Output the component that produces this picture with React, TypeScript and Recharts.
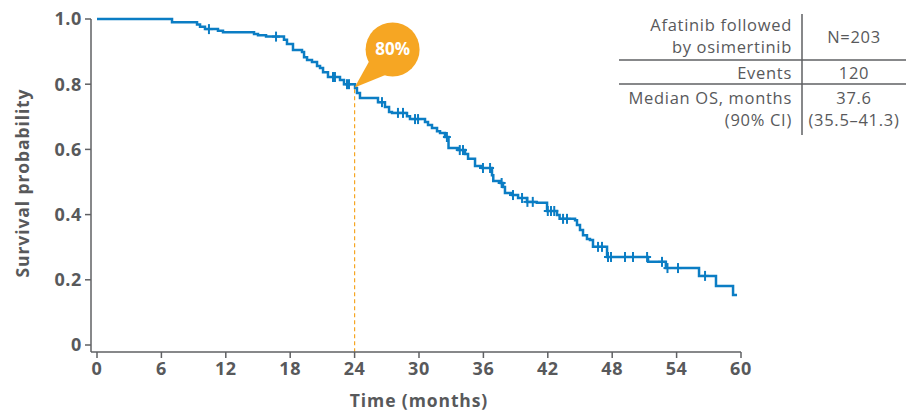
import React from 'react'
import {
  ComposedChart,
  Line,
  Scatter,
  XAxis,
  YAxis,
  ReferenceLine,
  ReferenceDot,
} from 'recharts'

// Kaplan-Meier steps: time (months) -> survival
const EVENT_T = [
  0, 6.99, 9.32, 9.6, 10.06, 11.27, 11.74, 14.63, 15.0, 15.75, 17.42, 17.7, 18.26, 19.1, 19.29,
  19.57, 20.03, 20.5, 20.78, 21.06, 21.52, 22.64, 23.01, 24.04, 24.22, 24.5, 26.18, 26.83, 27.21,
  27.49, 28.88, 29.16, 30.56, 30.84, 31.21, 31.68, 31.96, 32.42, 32.75, 33.64, 34.29, 34.57, 35.22,
  35.87, 36.8, 36.92, 37.6, 37.83, 38.01, 38.67, 39.23, 40.06, 40.98, 41.93, 42.86, 43.1, 44.54,
  44.72, 45.0, 45.28, 45.65, 45.93, 46.21, 47.52, 51.34, 53.0, 56.09, 57.67, 59.26,
]
const EVENT_S = [
  1.0, 0.99, 0.983, 0.976, 0.969, 0.964, 0.959, 0.954, 0.95, 0.946, 0.936, 0.923, 0.905, 0.899,
  0.883, 0.874, 0.868, 0.856, 0.85, 0.837, 0.822, 0.813, 0.8, 0.788, 0.773, 0.758, 0.745, 0.73,
  0.715, 0.712, 0.702, 0.693, 0.684, 0.675, 0.666, 0.656, 0.65, 0.638, 0.604, 0.598, 0.586, 0.571,
  0.549, 0.543, 0.521, 0.503, 0.497, 0.485, 0.466, 0.46, 0.451, 0.439, 0.436, 0.411, 0.399, 0.387,
  0.383, 0.368, 0.353, 0.337, 0.325, 0.322, 0.301, 0.27, 0.255, 0.236, 0.212, 0.181, 0.153,
]
const LAST_FOLLOWUP = 59.63

const CENSOR_T = [
  10.43, 16.68, 21.99, 22.17, 23.29, 23.48, 26.55, 28.04, 28.51, 29.63, 29.91, 32.6, 33.8, 34.1,
  35.96, 36.62, 37.7, 38.76, 39.6, 40.1, 40.6, 42.0, 42.3, 42.6, 43.42, 43.79, 46.68, 47.05, 47.61,
  47.89, 49.19, 49.94, 51.25, 52.64, 53.15, 54.13, 56.65,
]

const X_TICKS = [0, 6, 12, 18, 24, 30, 36, 42, 48, 54, 60]
const Y_TICKS = [0, 0.2, 0.4, 0.6, 0.8, 1.0]

const MARK_T = 24
const MARK_S = 0.79
const MARK_LABEL = '80%'

const BLUE = '#0b7dc4'
const ORANGE = '#f6a623'
const GREY = '#58595b'
const AXIS = '#5f6063'
const FONT = '"Open Sans", sans-serif'

const curve = EVENT_T.map((t, i) => ({ t, s: EVENT_S[i] })).concat([
  { t: LAST_FOLLOWUP, s: EVENT_S[EVENT_S.length - 1] },
])

function survivalAt(t: number) {
  let s = EVENT_S[0]
  EVENT_T.forEach((et, i) => {
    if (et <= t) s = EVENT_S[i]
  })
  return s
}

const censors = CENSOR_T.map((t) => ({ t, s: survivalAt(t) }))

const tickStyle = {
  fill: GREY,
  fontSize: 18,
  fontWeight: 700,
  fontFamily: FONT,
  letterSpacing: 0.6,
}

function Plus(props: any) {
  const { cx, cy } = props
  return (
    <g stroke={BLUE} strokeWidth={2}>
      <line x1={cx} y1={cy - 5} x2={cx} y2={cy + 5} />
      <line x1={cx - 4} y1={cy} x2={cx + 4} y2={cy} />
    </g>
  )
}

function Bubble(props: any) {
  const { cx, cy } = props
  const bx = cx + 38
  const by = cy - 38
  return (
    <g>
      <polygon points={`${cx},${cy} ${cx + 15},${cy - 27} ${cx + 32},${cy - 13}`} fill={ORANGE} />
      <circle cx={bx} cy={by} r={27} fill={ORANGE} />
      <text
        x={bx}
        y={by + 6}
        textAnchor="middle"
        fill="#fff"
        fontSize={17}
        fontWeight={700}
        fontFamily={FONT}
      >
        {MARK_LABEL}
      </text>
    </g>
  )
}

const tableText = {
  fill: GREY,
  fontSize: 16.5,
  fontFamily: FONT,
  letterSpacing: 0.7,
}

export default function App() {
  return (
    <div style={{ position: 'absolute', left: 0, top: 0, width: 906, height: 412, background: '#fff' }}>
      <ComposedChart
        width={906}
        height={412}
        data={curve}
        margin={{ top: 19, right: 165, bottom: 0, left: 0 }}
      >
        <XAxis
          dataKey="t"
          type="number"
          domain={[0, 60]}
          ticks={X_TICKS}
          padding={{ left: 6, right: 0 }}
          height={60}
          tick={tickStyle}
          tickLine={{ stroke: AXIS, strokeWidth: 1.5 }}
          axisLine={{ stroke: AXIS, strokeWidth: 1.5 }}
          tickSize={6}
          tickMargin={4}
        />
        <YAxis
          dataKey="s"
          type="number"
          domain={[0, 1]}
          ticks={Y_TICKS}
          padding={{ top: 0, bottom: 7 }}
          width={91}
          tick={tickStyle}
          tickFormatter={(v: number) => (v === 0 ? '0' : v.toFixed(1))}
          tickLine={{ stroke: AXIS, strokeWidth: 1.5 }}
          axisLine={{ stroke: AXIS, strokeWidth: 1.5 }}
          tickSize={6}
          tickMargin={3}
        />
        <ReferenceLine
          segment={[
            { x: MARK_T, y: -0.022 },
            { x: MARK_T, y: MARK_S },
          ]}
          stroke={ORANGE}
          strokeWidth={1.2}
          strokeDasharray="4 3"
          ifOverflow="visible"
        />
        <Line
          type="stepAfter"
          dataKey="s"
          stroke={BLUE}
          strokeWidth={2.5}
          dot={false}
          activeDot={false}
          isAnimationActive={false}
        />
        <Scatter data={censors} dataKey="s" shape={<Plus />} isAnimationActive={false} />
        <ReferenceDot x={MARK_T} y={MARK_S} shape={<Bubble />} ifOverflow="visible" />
      </ComposedChart>

      <svg
        width={906}
        height={412}
        style={{ position: 'absolute', left: 0, top: 0, pointerEvents: 'none' }}
      >
        <text
          transform="translate(29,183) rotate(-90)"
          textAnchor="middle"
          fill={GREY}
          fontSize={17.5}
          fontWeight={700}
          fontFamily={FONT}
          letterSpacing={0.9}
        >
          Survival probability
        </text>
        <text
          x={419}
          y={407}
          textAnchor="middle"
          fill={GREY}
          fontSize={17.5}
          fontWeight={700}
          fontFamily={FONT}
          letterSpacing={0.9}
        >
          Time (months)
        </text>

        <line x1={802} y1={14} x2={802} y2={135} stroke={AXIS} strokeWidth={1.5} />
        <line x1={619} y1={60} x2={906} y2={60} stroke={AXIS} strokeWidth={1.5} />
        <line x1={619} y1={84} x2={906} y2={84} stroke={AXIS} strokeWidth={1.5} />

        <text x={792} y={31} textAnchor="end" {...tableText}>Afatinib followed</text>
        <text x={792} y={53} textAnchor="end" {...tableText}>by osimertinib</text>
        <text x={854} y={43} textAnchor="middle" {...tableText}>N=203</text>
        <text x={792} y={79} textAnchor="end" {...tableText}>Events</text>
        <text x={854} y={79} textAnchor="middle" {...tableText}>120</text>
        <text x={792} y={104} textAnchor="end" {...tableText}>Median OS, months</text>
        <text x={792} y={126} textAnchor="end" {...tableText}>(90% CI)</text>
        <text x={854} y={104} textAnchor="middle" {...tableText}>37.6</text>
        <text x={854} y={126} textAnchor="middle" {...tableText}>(35.5–41.3)</text>
      </svg>
    </div>
  )
}
